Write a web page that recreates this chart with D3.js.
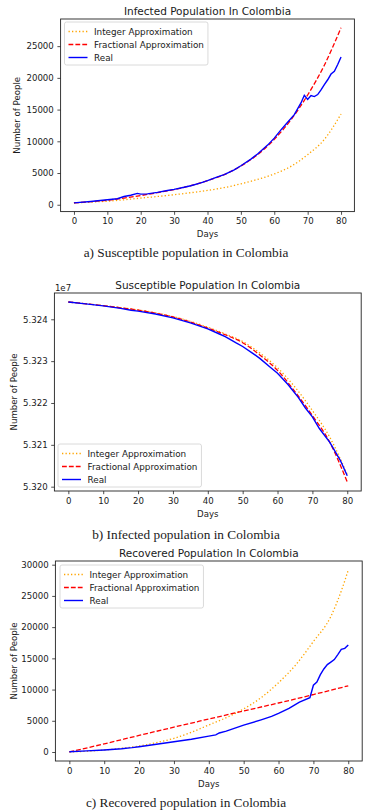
<!DOCTYPE html>
<html>
<head>
<meta charset="utf-8">
<script src="https://cdn.jsdelivr.net/npm/d3@7"></script>
<style>
  body { margin: 0; background: #fff; }
  svg { display: block; }
  text { font-family: "DejaVu Sans", sans-serif; fill: #1a1a1a; }
  .caption { font-family: "Liberation Serif", serif; }
</style>
</head>
<body>
<svg id="fig" width="372" height="811"></svg>
<script>
const xTicks = [0, 10, 20, 30, 40, 50, 60, 70, 80];
const modelDays = [0, 5, 10, 15, 20, 25, 30, 35, 40, 45, 50, 55, 60, 65, 70, 75, 80];
const legendNames = ["Integer Approximation", "Fractional Approximation", "Real"];

// a) infected
const infYTicks = [0, 5000, 10000, 15000, 20000, 25000];
const infIntegerVals = [300, 420, 560, 780, 1050, 1300, 1580, 1900, 2260, 2700, 3300, 4000, 4850, 6050, 7900, 10300, 14300];
const infFractionalVals = [300, 480, 720, 1050, 1450, 1900, 2400, 3000, 3800, 4750, 6100, 7900, 10300, 13400, 17300, 22000, 27900];
const infRealDays = [0, 5, 10, 13, 15, 17, 19, 20, 22, 25, 28, 30, 33, 35, 38, 40, 43, 45, 48, 50, 53, 55, 58, 60, 62, 64, 66, 68, 69, 70, 71, 72, 73, 74, 75, 76, 77, 78, 79, 80];
const infRealVals = [300, 520, 790, 950, 1300, 1500, 1790, 1680, 1720, 1950, 2250, 2420, 2750, 3000, 3450, 3800, 4400, 4750, 5500, 6150, 7200, 8000, 9400, 10500, 11800, 13000, 14200, 16050, 17260, 16600, 17200, 17050, 17370, 18100, 18950, 19700, 20600, 21050, 22100, 23300];

// b) susceptible
const susYTicks = [53200000, 53210000, 53220000, 53230000, 53240000];
const susYTickLabels = ["5.320", "5.321", "5.322", "5.323", "5.324"];
const susIntegerVals = [53244130, 53243710, 53243270, 53242780, 53242250, 53241550, 53240650, 53239500, 53238100, 53236500, 53234700, 53231900, 53228400, 53223800, 53218200, 53211800, 53202900];
const susFractionalVals = [53244130, 53243700, 53243250, 53242750, 53242200, 53241450, 53240550, 53239350, 53237900, 53236300, 53234400, 53231400, 53227800, 53222700, 53217000, 53210600, 53201120];
const susRealDays = [0, 5, 10, 15, 18, 20, 25, 30, 35, 40, 43, 45, 48, 50, 53, 55, 58, 60, 63, 66, 68, 70, 72, 75, 78, 80];
const susRealVals = [53244130, 53243680, 53243200, 53242600, 53242150, 53241950, 53241250, 53240350, 53239150, 53237700, 53236600, 53235850, 53234400, 53233500, 53231800, 53230600, 53228500, 53227100, 53224400, 53221300, 53218800, 53216700, 53213900, 53210600, 53206300, 53202600];

// c) recovered
const recYTicks = [0, 5000, 10000, 15000, 20000, 25000, 30000];
const recIntegerDays = [0, 5, 10, 15, 20, 25, 30, 35, 40, 45, 50, 55, 60, 65, 70, 75, 78, 80];
const recIntegerVals = [15, 120, 320, 600, 960, 1500, 2190, 3150, 4330, 5500, 6900, 8700, 11100, 14000, 17700, 21700, 25800, 29137];
const recFractionalDays = [0, 10, 20, 30, 40, 50, 60, 70, 80];
const recFractionalVals = [15, 1300, 2650, 3980, 5280, 6580, 7850, 9200, 10600];
const recRealDays = [0, 5, 10, 15, 18, 20, 25, 30, 35, 40, 42, 43, 45, 50, 55, 58, 60, 63, 66, 69, 70, 71, 72, 73, 74, 75, 76, 77, 78, 79, 80];
const recRealVals = [50, 180, 330, 520, 700, 850, 1250, 1650, 2050, 2550, 2750, 3050, 3350, 4300, 5150, 5700, 6200, 7000, 8000, 8700, 10700, 11200, 12400, 13300, 14000, 14400, 14800, 15600, 16450, 16600, 17150];

const styles = [
  { color: "#ffa500", dash: "1.3,2.2", width: 1.3, curve: d3.curveMonotoneX },
  { color: "#ff0000", dash: "4.8,2.1", width: 1.3, curve: d3.curveMonotoneX },
  { color: "#0000ff", dash: null, width: 1.4, curve: d3.curveLinear }
];

const panels = [
  {
    title: "Infected Population In Colombia",
    caption: "a) Susceptible population in Colombia",
    left: 60.6, right: 354.4, top: 19, bottom: 211.6,
    yTicks: infYTicks, yFormat: d => d,
    ylabelX: 20, captionY: 257,
    legend: { x: 64.5, y: 22 },
    series: [
      { days: modelDays, vals: infIntegerVals },
      { days: modelDays, vals: infFractionalVals },
      { days: infRealDays, vals: infRealVals }
    ]
  },
  {
    title: "Susceptible Population In Colombia",
    caption: "b) Infected population in Colombia",
    left: 54.4, right: 361.2, top: 293, bottom: 491,
    yTicks: susYTicks, yFormat: (d, i) => susYTickLabels[i],
    offsetText: "1e7",
    ylabelX: 16.5, captionY: 539,
    legend: { x: 58, y: 444 },
    series: [
      { days: modelDays, vals: susIntegerVals },
      { days: modelDays, vals: susFractionalVals },
      { days: susRealDays, vals: susRealVals }
    ]
  },
  {
    title: "Recovered Population In Colombia",
    caption: "c) Recovered population in Colombia",
    left: 55.4, right: 362.2, top: 561, bottom: 761,
    yTicks: recYTicks, yFormat: d => d,
    ylabelX: 16.5, captionY: 807,
    legend: { x: 60, y: 565 },
    series: [
      { days: recIntegerDays, vals: recIntegerVals },
      { days: recFractionalDays, vals: recFractionalVals },
      { days: recRealDays, vals: recRealVals }
    ]
  }
];

const svg = d3.select("#fig");

// matplotlib style 5% margins
function padded(ext) {
  const m = (ext[1] - ext[0]) * 0.05;
  return [ext[0] - m, ext[1] + m];
}

function drawPanel(p) {
  const g = svg.append("g");
  const allDays = p.series.flatMap(s => s.days);
  const allVals = p.series.flatMap(s => s.vals);
  const x = d3.scaleLinear().domain(padded(d3.extent(allDays))).range([p.left, p.right]);
  const y = d3.scaleLinear().domain(padded(d3.extent(allVals))).range([p.bottom, p.top]);

  // lines
  p.series.forEach((s, i) => {
    const st = styles[i];
    const line = d3.line()
      .x(d => x(d[0]))
      .y(d => y(d[1]))
      .curve(st.curve);
    g.append("path")
      .datum(d3.zip(s.days, s.vals))
      .attr("d", line)
      .attr("fill", "none")
      .attr("stroke", st.color)
      .attr("stroke-width", st.width)
      .attr("stroke-dasharray", st.dash);
  });

  // axes
  const xAxis = g.append("g")
    .attr("transform", `translate(0,${p.bottom})`)
    .call(d3.axisBottom(x).tickValues(xTicks).tickSize(3.2).tickPadding(3.4));
  const yAxis = g.append("g")
    .attr("transform", `translate(${p.left},0)`)
    .call(d3.axisLeft(y).tickValues(p.yTicks).tickFormat(p.yFormat).tickSize(3.2).tickPadding(3.6));
  [xAxis, yAxis].forEach(a => {
    a.select(".domain").remove();
    a.selectAll(".tick line").attr("stroke", "#222").attr("stroke-width", 0.8);
    a.selectAll(".tick text").attr("font-size", 8.6).attr("font-family", "DejaVu Sans").attr("fill", "#1a1a1a");
  });

  // frame
  g.append("rect")
    .attr("x", p.left).attr("y", p.top)
    .attr("width", p.right - p.left).attr("height", p.bottom - p.top)
    .attr("fill", "none").attr("stroke", "#222").attr("stroke-width", 0.9);

  if (p.offsetText) {
    g.append("text").attr("x", p.left + 0.5).attr("y", p.top - 2.5)
      .attr("font-size", 8.6).text(p.offsetText);
  }

  // title & labels
  const cx = (p.left + p.right) / 2;
  g.append("text").attr("x", cx).attr("y", p.top - 4.5)
    .attr("text-anchor", "middle").attr("font-size", 10.5).text(p.title);
  g.append("text").attr("x", cx).attr("y", p.bottom + 25.5)
    .attr("text-anchor", "middle").attr("font-size", 8.6).text("Days");
  g.append("text")
    .attr("transform", `translate(${p.ylabelX},${(p.top + p.bottom) / 2}) rotate(-90)`)
    .attr("text-anchor", "middle").attr("font-size", 8.6).text("Number of People");

  svg.append("text").attr("class", "caption")
    .attr("x", 186).attr("y", p.captionY)
    .attr("text-anchor", "middle").attr("font-size", 13.3).text(p.caption);

  // legend
  const lg = g.append("g").attr("transform", `translate(${p.legend.x},${p.legend.y})`);
  const box = lg.append("rect");
  let maxW = 0;
  legendNames.forEach((name, i) => {
    const st = styles[i];
    const ry = 9.5 + i * 13;
    lg.append("line")
      .attr("x1", 4).attr("x2", 23).attr("y1", ry).attr("y2", ry)
      .attr("stroke", st.color).attr("stroke-width", st.width)
      .attr("stroke-dasharray", st.dash);
    const t = lg.append("text").attr("x", 29.5).attr("y", ry).attr("dy", "0.35em")
      .attr("font-size", 8.8).text(name);
    maxW = Math.max(maxW, t.node().getComputedTextLength());
  });
  box.attr("x", 0).attr("y", 0).attr("rx", 2)
    .attr("width", 29.5 + maxW + 4).attr("height", 43)
    .attr("fill", "#fff").attr("fill-opacity", 0.85)
    .attr("stroke", "#d0d0d0").attr("stroke-width", 0.8);
}

panels.forEach(drawPanel);
</script>
</body>
</html>
